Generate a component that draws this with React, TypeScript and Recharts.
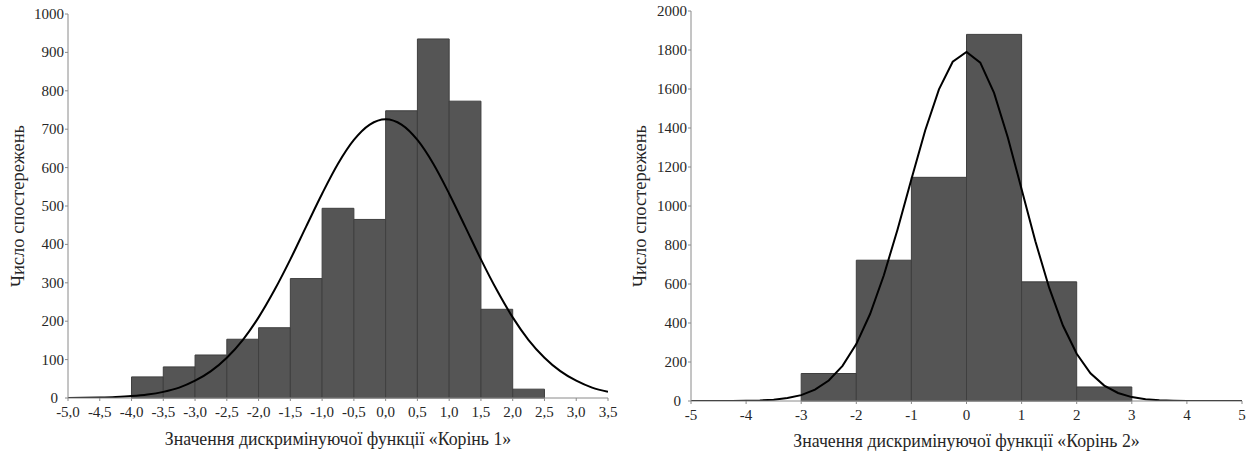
import { ComposedChart, Line, ReferenceArea, XAxis, YAxis } from "recharts";

// Root 1: histogram bins (edges) and counts
const edges1 = [-4.0, -3.5, -3.0, -2.5, -2.0, -1.5, -1.0, -0.5, 0.0, 0.5, 1.0, 1.5, 2.0, 2.5];
const counts1 = [55, 81, 112, 153, 183, 311, 494, 465, 748, 935, 773, 231, 23];

// Root 1: fitted normal curve
const curveX1 = [
  -5.0, -4.75, -4.5, -4.25, -4.0, -3.75, -3.5, -3.25, -3.0, -2.75, -2.5, -2.25, -2.0, -1.75, -1.5, -1.25, -1.0, -0.75,
  -0.5, -0.25, 0.0, 0.25, 0.5, 0.75, 1.0, 1.25, 1.5, 1.75, 2.0, 2.25, 2.5, 2.75, 3.0, 3.25, 3.5,
];
const curveY1 = [
  0.3, 0.7, 1.4, 2.7, 5, 9, 16, 27, 45, 70, 105, 151, 210, 281, 361, 447, 532, 610, 672, 712, 726, 712, 672, 610, 532,
  447, 361, 281, 210, 151, 105, 70, 45, 27, 16,
];

const xTicks1 = [-5.0, -4.5, -4.0, -3.5, -3.0, -2.5, -2.0, -1.5, -1.0, -0.5, 0.0, 0.5, 1.0, 1.5, 2.0, 2.5, 3.0, 3.5];
const yTicks1 = [0, 100, 200, 300, 400, 500, 600, 700, 800, 900, 1000];
const rightTicks1 = [0, 90.9, 181.8, 272.7, 363.6, 454.5, 545.5, 636.4, 727.3, 818.2, 909.1, 1000];

// Root 2
const edges2 = [-3, -2, -1, 0, 1, 2, 3];
const counts2 = [141, 722, 1147, 1880, 611, 72];

const curveX2 = [
  -5.0, -4.75, -4.5, -4.25, -4.0, -3.75, -3.5, -3.25, -3.0, -2.75, -2.5, -2.25, -2.0, -1.75, -1.5, -1.25, -1.0, -0.75,
  -0.5, -0.25, 0.0, 0.25, 0.5, 0.75, 1.0, 1.25, 1.5, 1.75, 2.0, 2.25, 2.5, 2.75, 3.0, 3.25, 3.5, 3.75, 4.0, 4.25, 4.5,
  4.75, 5.0,
];
const curveY2 = [
  0, 0, 0.2, 0.5, 1.3, 3, 7, 15, 30, 58, 105, 180, 292, 446, 645, 881, 1137, 1387, 1598, 1740, 1790, 1735, 1580, 1351,
  1086, 819, 581, 387, 242, 142, 79, 41, 20, 9, 4, 1.6, 0.6, 0.2, 0, 0, 0,
];

const xTicks2 = [-5, -4, -3, -2, -1, 0, 1, 2, 3, 4, 5];
const yTicks2 = [0, 200, 400, 600, 800, 1000, 1200, 1400, 1600, 1800, 2000];
const topTicks2 = [-5, -4.167, -3.333, -2.5, -1.667, -0.833, 0, 0.833, 1.667, 2.5, 3.333, 4.167, 5];
const rightTicks2 = [0, 181.8, 363.6, 545.5, 727.3, 909.1, 1090.9, 1272.7, 1454.5, 1636.4, 1818.2, 2000];

const FONT = "Liberation Serif, DejaVu Serif, serif";
const AXIS = "#8a8a8a";
const TEXT = "#262626";
const BAR = "#555555";
const BAR_EDGE = "#3f3f3f";

const tickStyle = { fontFamily: FONT, fontSize: 15, fill: TEXT, style: { fontFamily: FONT } };

// y tick label; the zero label sits a bit further left, as in the source, so it clears the x labels
const YTick = (props: any) => {
  const v = props.payload?.value;
  const shift = v === 0 ? 6 : 0;
  return (
    <text
      x={props.x - shift}
      y={props.y}
      textAnchor="end"
      dominantBaseline="central"
      style={{ fontFamily: FONT, fontSize: 15 }}
      fill={TEXT}
    >
      {v}
    </text>
  );
};

const yTitle = (text: string, cx: number) => (props: any) => {
  const vb = props.viewBox || {};
  const cy = (vb.y || 0) + (vb.height || 0) / 2;
  return (
    <text
      x={cx}
      y={cy}
      transform={`rotate(-90 ${cx} ${cy})`}
      textAnchor="middle"
      dominantBaseline="central"
      style={{ fontFamily: FONT, fontSize: 18.5 }}
      fill={TEXT}
    >
      {text}
    </text>
  );
};

const xTitle = (text: string, baseline: number) => (props: any) => {
  const vb = props.viewBox || {};
  const cx = (vb.x || 0) + (vb.width || 0) / 2;
  return (
    <text x={cx} y={baseline} textAnchor="middle" style={{ fontFamily: FONT, fontSize: 17.8 }} fill={TEXT}>
      {text}
    </text>
  );
};

function Histogram(props: {
  width: number;
  margin: { top: number; right: number; left: number; bottom: number };
  yAxisWidth: number;
  xAxisHeight: number;
  edges: number[];
  counts: number[];
  curveX: number[];
  curveY: number[];
  xDomain: [number, number];
  yDomain: [number, number];
  xTicks: number[];
  topTicks: number[];
  yTicks: number[];
  rightTicks: number[];
  fmt: (v: number) => string;
  curveType: "monotone" | "linear";
  title: string;
  titleBaseline: number;
  yTitleX: number;
}) {
  const data = props.curveX.map((x, i) => ({ x, y: props.curveY[i] }));
  return (
    <ComposedChart width={props.width} height={454} data={data} margin={props.margin} style={{ fontFamily: FONT }}>
      <XAxis
        dataKey="x"
        type="number"
        domain={props.xDomain}
        ticks={props.xTicks}
        tickFormatter={props.fmt}
        interval={0}
        allowDataOverflow
        height={props.xAxisHeight}
        stroke={AXIS}
        tickSize={3}
        tickMargin={5}
        tick={tickStyle}
        label={xTitle(props.title, props.titleBaseline)}
      />
      <XAxis
        xAxisId="top"
        orientation="top"
        type="number"
        domain={props.xDomain}
        ticks={props.topTicks}
        interval={0}
        allowDataOverflow
        height={0}
        mirror
        stroke={AXIS}
        tickSize={3}
        tick={false}
      />
      <YAxis
        type="number"
        domain={props.yDomain}
        ticks={props.yTicks}
        interval={0}
        allowDataOverflow
        width={props.yAxisWidth}
        stroke={AXIS}
        tickSize={3}
        tickMargin={1}
        tick={YTick}
        label={yTitle("Число спостережень", props.yTitleX)}
      />
      <YAxis
        yAxisId="right"
        orientation="right"
        type="number"
        domain={props.yDomain}
        ticks={props.rightTicks}
        interval={0}
        allowDataOverflow
        width={0}
        mirror
        stroke={AXIS}
        tickSize={3}
        tick={false}
      />
      {props.counts.map((c, i) => (
        <ReferenceArea
          key={i}
          x1={props.edges[i]}
          x2={props.edges[i + 1]}
          y1={0}
          y2={c}
          fill={BAR}
          fillOpacity={1}
          stroke={BAR_EDGE}
          strokeWidth={1}
        />
      ))}
      <Line
        type={props.curveType}
        dataKey="y"
        stroke="#000"
        strokeWidth={2}
        dot={false}
        activeDot={false}
        isAnimationActive={false}
      />
    </ComposedChart>
  );
}

export default function App() {
  return (
    <div
      style={{
        position: "absolute",
        left: 0,
        top: 0,
        width: 1250,
        height: 454,
        background: "#fff",
        fontFamily: FONT,
      }}
    >
      <div style={{ position: "absolute", left: 0, top: 0 }}>
        <Histogram
          width={620}
          margin={{ top: 14, right: 12, left: 0, bottom: 0 }}
          yAxisWidth={68}
          xAxisHeight={56}
          edges={edges1}
          counts={counts1}
          curveX={curveX1}
          curveY={curveY1}
          xDomain={[-5, 3.5]}
          yDomain={[0, 1000]}
          xTicks={xTicks1}
          topTicks={xTicks1}
          yTicks={yTicks1}
          rightTicks={rightTicks1}
          fmt={(v) => v.toFixed(1).replace(".", ",")}
          curveType="monotone"
          title="Значення дискримінуючої функції «Корінь 1»"
          titleBaseline={445}
          yTitleX={18}
        />
      </div>
      <div style={{ position: "absolute", left: 620, top: 0 }}>
        <Histogram
          width={630}
          margin={{ top: 11, right: 8, left: 0, bottom: 0 }}
          yAxisWidth={71}
          xAxisHeight={53}
          edges={edges2}
          counts={counts2}
          curveX={curveX2}
          curveY={curveY2}
          xDomain={[-5, 5]}
          yDomain={[0, 2000]}
          xTicks={xTicks2}
          topTicks={topTicks2}
          yTicks={yTicks2}
          rightTicks={rightTicks2}
          fmt={(v) => String(v)}
          curveType="linear"
          title="Значення дискримінуючої функції «Корінь 2»"
          titleBaseline={447}
          yTitleX={20}
        />
      </div>
    </div>
  );
}
